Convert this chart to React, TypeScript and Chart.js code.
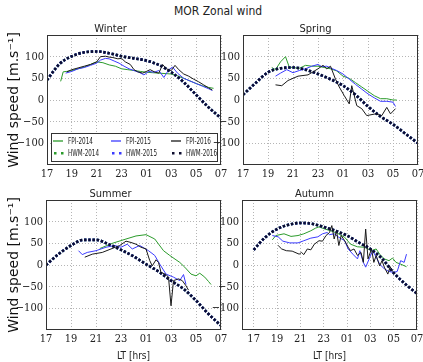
import React, { useEffect, useRef } from 'react';
import { Chart, registerables } from 'chart.js';

Chart.register(...registerables);

// ---------- ticks ----------
const xTickValues = [17, 19, 21, 23, 25, 27, 29, 31];
const yTickValues = [-100, -50, 0, 50, 100];
const legendLabels = ['FPI-2014', 'FPI-2015', 'FPI-2016', 'HWM-2014', 'HWM-2015', 'HWM-2016'];

// ---------- HWM model (hours after 17 LT, continuous) ----------
const hwmHours = [17, 18, 19, 20, 21, 22, 23, 24, 25, 26, 27, 28, 29, 30, 31];
const hwmWinter = [46, 83, 101, 110, 112, 108, 101, 96, 91, 81, 64, 41, 12, -17, -42];
const hwmSpring = [12, 39, 64, 73, 75, 70, 60, 48, 33, 12, -15, -38, -56, -78, -100];
const hwmSummer = [0, 25, 45, 58, 58, 48, 35, 20, 2, -15, -36, -55, -82, -113, -140];
const hwmAutumn = [35, 64, 83, 93, 97, 95, 88, 79, 68, 52, 37, 15, -18, -44, -66];

// ---------- Winter FPI ----------
const winterFpi2014T = [18.1, 18.3, 18.6, 19, 19.5, 20, 20.5, 21, 21.5, 22, 22.5, 23, 23.5, 24, 24.5, 25, 25.5, 26, 26.5, 27, 27.5, 28, 28.5, 29, 29.5, 30, 30.4];
const winterFpi2014V = [43, 65, 66, 68, 72, 76, 82, 88, 86, 81, 78, 72, 70, 68, 66, 64, 63, 62, 61, 60, 56, 50, 44, 38, 33, 29, 27];
const winterFpi2015T = [18.5, 19, 19.5, 20, 20.5, 21, 21.3, 21.7, 22, 22.4, 22.8, 23.2, 23.6, 24, 24.4, 24.8, 25.2, 25.6, 26, 26.4, 26.8, 27.1, 27.5, 28, 28.5, 29, 29.5, 30, 30.3];
const winterFpi2015V = [62, 66, 72, 75, 80, 85, 92, 96, 95, 90, 85, 78, 72, 68, 64, 58, 66, 64, 68, 52, 70, 76, 62, 50, 44, 38, 32, 26, 22];
const winterFpi2016T = [18.6, 19, 19.5, 20, 20.5, 21, 21.3, 21.7, 22, 22.3, 22.7, 23, 23.3, 23.7, 24, 24.3, 24.7, 25, 25.3, 25.7, 26, 26.3, 26.6, 27, 27.3, 27.6, 28, 28.4, 28.8, 29.2, 29.6, 30, 30.3];
const winterFpi2016V = [65, 70, 74, 78, 82, 88, 100, 101, 99, 98, 95, 96, 88, 82, 70, 65, 62, 66, 70, 64, 62, 82, 72, 68, 80, 70, 60, 55, 48, 42, 35, 28, 23];

// ---------- Spring FPI ----------
const springFpi2014T = [19.3, 19.6, 20, 20.4, 20.7, 21, 21.5, 22, 22.5, 23, 23.5, 24, 24.5, 25, 25.5, 26, 26.5, 27, 27.5, 28, 28.5, 29, 29.3];
const springFpi2014V = [75, 70, 88, 100, 76, 75, 73, 80, 78, 78, 75, 72, 67, 55, 50, 40, 30, 20, 10, 3, 3, 0, 0];
const springFpi2015T = [19.6, 20, 20.5, 21, 21.5, 22, 22.5, 23, 23.3, 23.7, 24, 24.5, 25, 25.5, 26, 26.5, 27, 27.5, 28, 28.5, 29, 29.2];
const springFpi2015V = [55, 62, 70, 63, 68, 72, 78, 82, 77, 78, 74, 68, 60, 48, 36, 25, 14, 5, -3, -3, -5, -15];
const springFpi2016T = [19.6, 20.1, 20.6, 21.4, 22.2, 23.0, 23.4, 23.7, 24.0, 24.4, 24.7, 25.1, 25.5, 25.7, 26.1, 26.5, 26.9, 27.6, 28.1, 28.5, 28.8, 29.2];
const springFpi2016V = [35, 33, 45, 55, 58, 72, 80, 72, 78, 48, 30, 10, -9, 33, -13, -20, -36, -32, -36, -17, -32, -20];

// ---------- Summer FPI ----------
const summerFpi2014T = [21.3, 22.3, 23.4, 24.2, 25.0, 25.7, 26.4, 26.9, 27.7, 28.1, 28.6, 29.0, 29.3, 29.7, 30.0, 30.2];
const summerFpi2014V = [38, 50, 60, 67, 70, 60, 33, 22, 6, -5, -21, -25, -19, -28, -38, -45];
const summerFpi2015T = [19.6, 19.9, 20.3, 21.0, 21.8, 22.5, 23.0, 23.5, 23.9, 24.5, 25.2, 25.7, 26.1, 26.6, 27.2, 27.7, 28.0, 28.2];
const summerFpi2015V = [33, 24, 29, 33, 41, 45, 41, 48, 37, 45, 33, 22, 2, -21, -28, -36, -22, -45];
const summerFpi2016T = [20.1, 20.7, 21.5, 22.2, 22.9, 23.4, 23.8, 24.2, 24.6, 25.0, 25.3, 25.5, 25.8, 26.0, 26.2, 26.6, 26.8, 27.0, 27.2, 27.6, 27.9, 28.2, 28.4];
const summerFpi2016V = [18, 25, 29, 37, 45, 55, 52, 48, 41, 37, 10, -2, 12, 6, -17, -22, -28, -94, -36, -32, -36, -48, -58];

// ---------- Autumn FPI ----------
const autumnFpi2014T = [18.6, 18.9, 19.6, 20.2, 20.8, 21.3, 21.9, 22.3, 22.6, 23.1, 23.6, 24.2, 24.8, 25.3, 25.9, 26.5, 27.1, 27.5, 27.8, 28.2, 28.6, 28.9, 29.2, 29.6, 30.1];
const autumnFpi2014V = [58, 68, 72, 66, 68, 72, 79, 85, 88, 83, 79, 73, 64, 48, 42, 41, 33, 37, 25, 14, 10, 16, 6, 2, -4];
const autumnFpi2015T = [18.6, 19.1, 19.5, 20.1, 20.8, 21.3, 21.9, 22.5, 22.9, 23.3, 23.5, 23.9, 24.3, 24.8, 25.1, 25.5, 25.9, 26.1, 26.4, 26.6, 26.9, 27.2, 27.5, 27.8, 28.2, 28.6, 29.0, 29.3, 29.6, 29.9, 30.1];
const autumnFpi2015V = [68, 65, 55, 51, 51, 56, 62, 65, 72, 75, 70, 72, 64, 56, 37, 25, 14, 33, 6, -5, 14, 33, 18, 2, -9, -15, -17, -15, 10, 6, 25];
const autumnFpi2016T = [19.1, 19.4, 19.8, 20.3, 20.9, 21.1, 21.3, 21.6, 21.9, 22.2, 22.6, 22.9, 23.2, 23.5, 23.7, 23.9, 24.1, 24.3, 24.5, 24.8, 25.1, 25.3, 25.6, 25.9, 26.2, 26.4, 26.6, 26.8, 27.1, 27.3, 27.5, 27.8, 28.0, 28.2, 28.5, 28.7, 28.9];
const autumnFpi2016V = [45, 37, 33, 32, 25, 29, 24, 37, 35, 48, 56, 55, 68, 75, 91, 60, 79, 45, 68, 56, 41, 33, 37, 22, 29, 6, 83, 14, 37, 6, 22, -2, 10, -5, -21, -4, -15];

// ---------- styles ----------
const GREEN = '#2b9b2b';
const BLUE = '#3b3bff';
const BLACK = '#1a1a1a';
const HWM_COLOR = '#0d0d2e';
const FONT_SERIF = '"DejaVu Serif Condensed", "Liberation Serif", serif';
const FONT_SANS_C = '"DejaVu Sans Condensed", "Liberation Sans Narrow", "DejaVu Sans", sans-serif';
const FONT_SANS = '"DejaVu Sans", "Liberation Sans", sans-serif';

const pts = (t: number[], v: number[]) => t.map((x, i) => ({ x, y: v[i] }));

const fpi = (label: string, t: number[], v: number[], color: string, order: number) => ({
  label,
  data: pts(t, v),
  borderColor: color,
  backgroundColor: color,
  borderWidth: 1,
  pointRadius: 0,
  fill: false,
  tension: 0,
  order,
});

const hwm = (label: string, v: number[], color: string, order: number) => ({
  label,
  data: pts(hwmHours, v),
  borderColor: color,
  backgroundColor: color,
  borderWidth: 2.6,
  borderDash: [2.4, 1.8],
  borderCapStyle: 'butt',
  pointRadius: 0,
  fill: false,
  cubicInterpolationMode: 'monotone',
  order,
});

const makeDatasets = (
  f14: [number[], number[]],
  f15: [number[], number[]],
  f16: [number[], number[]],
  h: number[]
) => [
  fpi(legendLabels[0], f14[0], f14[1], GREEN, 5),
  hwm(legendLabels[3], h, GREEN, 4),
  fpi(legendLabels[1], f15[0], f15[1], BLUE, 3),
  hwm(legendLabels[4], h, BLUE, 2),
  fpi(legendLabels[2], f16[0], f16[1], BLACK, 1),
  hwm(legendLabels[5], h, HWM_COLOR, 0),
];

const framePlugin = {
  id: 'frame',
  afterDatasetsDraw(chart: any) {
    const { ctx, chartArea } = chart;
    const l = Math.round(chartArea.left) + 0.5;
    const t = Math.round(chartArea.top) + 0.5;
    const r = Math.round(chartArea.right) - 0.5;
    const b = Math.round(chartArea.bottom) - 0.5;
    ctx.save();
    ctx.strokeStyle = '#333';
    ctx.lineWidth = 1;
    ctx.strokeRect(l, t, r - l, b - t);
    ctx.restore();
  },
};

const legendPlugin = {
  id: 'innerLegend',
  afterDraw(chart: any) {
    const { ctx, chartArea } = chart;
    const L = Math.round(chartArea.left);
    const R = Math.round(chartArea.right);
    const B = Math.round(chartArea.bottom);
    const boxL = L + 4.5, boxR = R - 3.5, boxT = B - 31.5, boxB = B - 3.5;
    ctx.save();
    ctx.fillStyle = '#fff';
    ctx.fillRect(boxL, boxT, boxR - boxL, boxB - boxT);
    ctx.strokeStyle = '#333';
    ctx.lineWidth = 1;
    ctx.strokeRect(boxL, boxT, boxR - boxL, boxB - boxT);
    const cols = [L + 6, L + 64, L + 124];
    const rows = [B - 24, B - 12];
    const ds = chart.data.datasets;
    const find = (lab: string) => ds.find((d: any) => d.label === lab);
    ctx.font = `9px ${FONT_SANS_C}`;
    ctx.textBaseline = 'middle';
    legendLabels.forEach((lab, i) => {
      const d = find(lab);
      const c = cols[i % 3];
      const y = rows[Math.floor(i / 3)];
      ctx.strokeStyle = d.borderColor;
      ctx.fillStyle = d.borderColor;
      if (i < 3) {
        ctx.lineWidth = 1.3;
        ctx.beginPath();
        ctx.moveTo(c, y);
        ctx.lineTo(c + 10, y);
        ctx.stroke();
      } else {
        ctx.fillRect(c + 1, y - 1, 2.5, 2.5);
        ctx.fillRect(c + 8, y - 1, 2.5, 2.5);
      }
      ctx.fillStyle = '#222';
      ctx.fillText(lab, c + 15, y + 0.5, i < 3 ? 25 : 31);
    });
    ctx.restore();
  },
};

type PanelProps = {
  name: string;
  left: number; // plot area left (page px)
  right: number;
  top: number;
  bottom: number;
  yW: number;
  xH: number;
  xMin: number;
  showYTitle: boolean;
  showXTitle: boolean;
  legend: boolean;
  datasets: any[];
};

const TITLE_H = 17;

function Panel(p: PanelProps) {
  const ref = useRef<HTMLCanvasElement>(null);
  const cw = p.yW + (p.right - p.left) + p.yW;
  const ch = TITLE_H + (p.bottom - p.top) + p.xH;
  const cl = p.left - p.yW;
  const ct = p.top - TITLE_H;

  useEffect(() => {
    if (!ref.current) return;
    const grid = { color: '#b5b5b5', lineWidth: 1, drawTicks: false };
    const border = { display: false, dash: [1, 2] };
    const chart = new Chart(ref.current, {
      type: 'line',
      data: { datasets: p.datasets },
      options: {
        responsive: false,
        animation: false,
        events: [],
        layout: { padding: { left: 0, right: p.yW, top: 0, bottom: 0 } },
        plugins: {
          legend: { display: false },
          tooltip: { enabled: false },
          title: {
            display: true,
            text: p.name,
            color: '#222',
            font: { family: FONT_SANS_C, size: 11, weight: 'normal', lineHeight: '15px' },
            padding: { top: 4, bottom: -2 },
          },
        },
        scales: {
          x: {
            type: 'linear',
            min: p.xMin,
            max: 31,
            afterBuildTicks: (s: any) => {
              s.ticks = xTickValues.filter((v) => v >= p.xMin).map((v) => ({ value: v }));
            },
            afterFit: (s: any) => {
              s.height = p.xH;
            },
            ticks: {
              autoSkip: false,
              maxRotation: 0,
              padding: 3,
              color: '#222',
              font: { family: FONT_SERIF, size: 11 },
              callback: (v: any) => String(Number(v) % 24).padStart(2, '0'),
            },
            grid,
            border,
            title: {
              display: p.showXTitle,
              text: 'LT [hrs]',
              color: '#222',
              font: { family: FONT_SANS_C, size: 10, lineHeight: '12px' },
              padding: { top: 0, bottom: 0 },
            },
          },
          y: {
            type: 'linear',
            min: -150,
            max: 150,
            afterBuildTicks: (s: any) => {
              s.ticks = yTickValues.map((v) => ({ value: v }));
            },
            afterFit: (s: any) => {
              s.width = p.yW;
            },
            ticks: {
              padding: 3,
              color: '#222',
              font: { family: FONT_SERIF, size: 11 },
              callback: (v: any) => (Number(v) < 0 ? '\u2212' + Math.abs(Number(v)) : String(v)),
            },
            grid,
            border,
            title: {
              display: p.showYTitle,
              text: 'Wind speed [m.s\u207B\u00B9]',
              color: '#111',
              font: { family: FONT_SANS, size: 14, lineHeight: '17px' },
              padding: { top: 6, bottom: 0 },
            },
          },
        },
      },
      plugins: p.legend ? [framePlugin, legendPlugin] : [framePlugin],
    } as any);
    return () => chart.destroy();
  }, []);

  return (
    <canvas
      ref={ref}
      width={cw}
      height={ch}
      style={{ position: 'absolute', left: cl, top: ct, width: cw, height: ch }}
    />
  );
}

export default function App() {
  return (
    <div
      style={{
        position: 'fixed',
        left: 0,
        top: 0,
        width: 423,
        height: 362,
        background: '#fff',
        overflow: 'hidden',
      }}
    >
      <div
        style={{
          position: 'absolute',
          left: 218,
          top: 4,
          transform: 'translateX(-50%)',
          whiteSpace: 'nowrap',
          fontFamily: FONT_SANS_C,
          fontStretch: 'condensed',
          fontSize: 12,
          lineHeight: '15px',
          color: '#222',
        }}
      >
        MOR Zonal wind
      </div>
      <Panel
        name="Winter"
        left={47}
        right={221}
        top={35}
        bottom={165}
        yW={47}
        xH={22}
        xMin={17}
        showYTitle={true}
        showXTitle={false}
        legend={true}
        datasets={makeDatasets(
          [winterFpi2014T, winterFpi2014V],
          [winterFpi2015T, winterFpi2015V],
          [winterFpi2016T, winterFpi2016V],
          hwmWinter
        )}
      />
      <Panel
        name="Spring"
        left={243}
        right={418}
        top={35}
        bottom={165}
        yW={30}
        xH={22}
        xMin={17}
        showYTitle={false}
        showXTitle={false}
        legend={false}
        datasets={makeDatasets(
          [springFpi2014T, springFpi2014V],
          [springFpi2015T, springFpi2015V],
          [springFpi2016T, springFpi2016V],
          hwmSpring
        )}
      />
      <Panel
        name="Summer"
        left={46}
        right={221}
        top={200}
        bottom={330}
        yW={46}
        xH={32}
        xMin={17}
        showYTitle={true}
        showXTitle={true}
        legend={false}
        datasets={makeDatasets(
          [summerFpi2014T, summerFpi2014V],
          [summerFpi2015T, summerFpi2015V],
          [summerFpi2016T, summerFpi2016V],
          hwmSummer
        )}
      />
      <Panel
        name="Autumn"
        left={242}
        right={417}
        top={200}
        bottom={330}
        yW={30}
        xH={32}
        xMin={16}
        showYTitle={false}
        showXTitle={true}
        legend={false}
        datasets={makeDatasets(
          [autumnFpi2014T, autumnFpi2014V],
          [autumnFpi2015T, autumnFpi2015V],
          [autumnFpi2016T, autumnFpi2016V],
          hwmAutumn
        )}
      />
    </div>
  );
}
